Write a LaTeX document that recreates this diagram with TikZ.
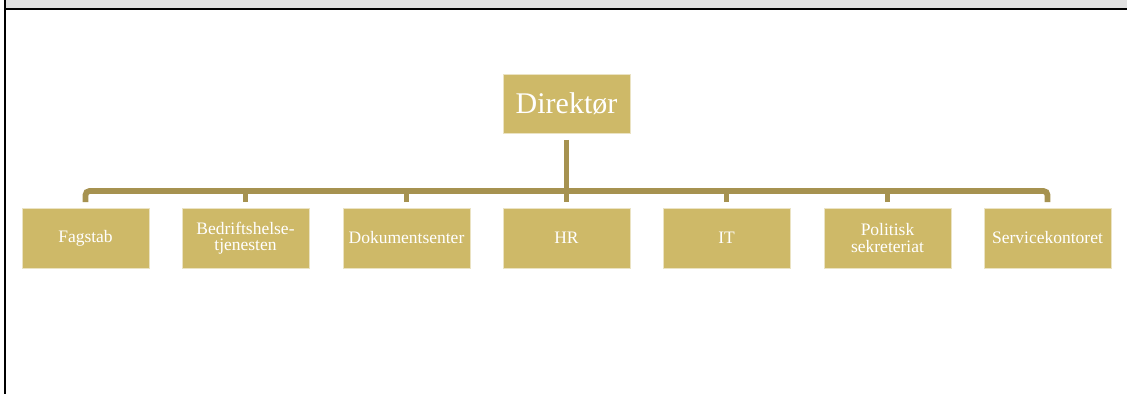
\documentclass[tikz,border=0pt]{standalone}
\usepackage{fontspec}
\setmainfont{Liberation Serif}
\definecolor{boxgold}{HTML}{CEB968}
\definecolor{linegold}{HTML}{A69250}
\definecolor{bandgray}{HTML}{E0E0E0}
\begin{document}
\begin{tikzpicture}[x=1pt,y=-1pt,
  unitbox/.style={fill=boxgold,draw=boxgold!40!white,line width=0.6pt,minimum width=127pt,minimum height=60pt,inner sep=1pt,text=white,align=center,font=\fontsize{17.5}{16.5}\selectfont},
  headbox/.style={unitbox,minimum height=59pt,font=\fontsize{30}{30}\selectfont},
  conn/.style={draw=linegold,line width=5.8pt,rounded corners=4pt}]
\useasboundingbox (0,0) rectangle (1127,394);
\fill[bandgray] (5,0) rectangle (1127,9);
\draw[black,line width=2pt] (5,0) -- (5,394);
\draw[black,line width=2pt] (4,9) -- (1127,9);
\node[headbox] (dir) at (566.5,103.5) {Direktør};
\node[unitbox] (c1) at (85.5,238) {Fagstab};
\node[unitbox] (c2) at (245.5,238) {Bedriftshelse-\\tjenesten};
\node[unitbox] (c3) at (406.5,238) {Dokumentsenter};
\node[unitbox] (c4) at (566.5,238) {HR};
\node[unitbox] (c5) at (726.5,238) {IT};
\node[unitbox] (c6) at (887.5,238) {Politisk\\sekreteriat};
\node[unitbox] (c7) at (1047.5,238) {Servicekontoret};
\coordinate (bar) at (0,191);
\draw[conn] ([yshift=5.5pt]c1.north) -- (c1.north |- bar) -- (c7.north |- bar) -- ([yshift=5.5pt]c7.north);
\foreach \c in {c2,c3,c5,c6}{
  \draw[conn] ([yshift=5.5pt]\c.north) -- (\c.north |- bar);
}
\draw[conn] ([yshift=-6.5pt]dir.south) -- ([yshift=5.5pt]c4.north);
\end{tikzpicture}
\end{document}
